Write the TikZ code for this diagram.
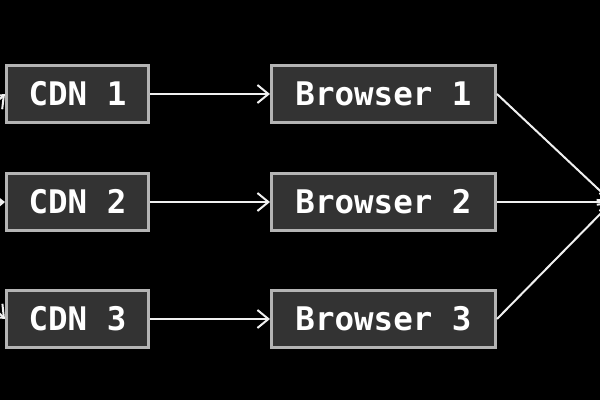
\documentclass[tikz,border=0pt]{standalone}
\usepackage{fontspec}
\setmonofont{DejaVu Sans Mono}
\usetikzlibrary{arrows.meta}
\definecolor{boxfill}{HTML}{333333}
\definecolor{boxline}{HTML}{B4B4B4}
\definecolor{wireclr}{HTML}{F0F0F0}
\tikzset{
  box/.style={draw=boxline, line width=3pt, fill=boxfill, text=white,
    font=\ttfamily\bfseries\fontsize{32.5}{32.5}\selectfont,
    minimum height=57pt, inner sep=0pt, anchor=center},
  cdnbox/.style={box, minimum width=142pt},
  brbox/.style={box, minimum width=224pt},
  wire/.style={draw=wireclr, line width=2pt},
  arr/.style={wire, -{Straight Barb[length=11pt,width=18pt,line width=2pt]}}
}
\begin{document}
\begin{tikzpicture}[x=1pt,y=-1pt]
\useasboundingbox (0,0) rectangle (600,400);
\fill[black] (0,0) rectangle (600,400);
\clip (0,0) rectangle (600,400);
\coordinate (src) at (-110,205);
\coordinate (dst) at (612,202);
\node[cdnbox] (c1) at (77.5,94) {CDN 1};
\node[cdnbox] (c2) at (77.5,202) {CDN 2};
\node[cdnbox] (c3) at (77.5,319) {CDN 3};
\node[brbox] (b1) at (383.5,94) {Browser 1};
\node[brbox] (b2) at (383.5,202) {Browser 2};
\node[brbox] (b3) at (383.5,319) {Browser 3};
\foreach \i in {1,2,3}{
  \draw[arr] (src) -- (c\i.west);
  \draw[arr] (c\i.east) -- (b\i.west);
  \draw[arr] (b\i.east) -- (dst);
}
\end{tikzpicture}
\end{document}
